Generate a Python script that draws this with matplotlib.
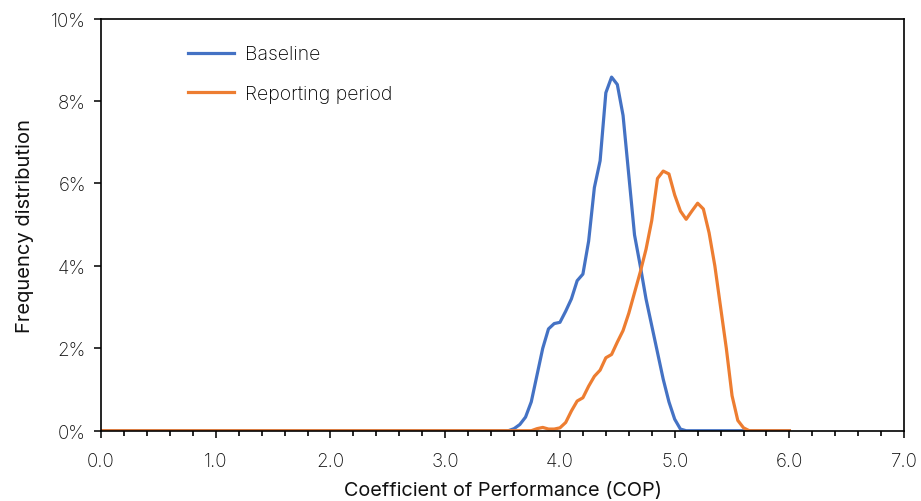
import numpy as np
import matplotlib
matplotlib.use("Agg")
import matplotlib.pyplot as plt
from matplotlib.ticker import FuncFormatter, MultipleLocator

plt.rcParams['font.family'] = ['Inter', 'DejaVu Sans']
plt.rcParams['font.weight'] = 'light'

# COP bins (step 0.05 from 0.0 to 6.0)
cop = np.round(np.arange(0, 121) * 0.05, 2)

# non-zero frequencies (%), everything else is 0
baseline_x = [3.60, 3.65, 3.70, 3.75, 3.80, 3.85, 3.90, 3.95, 4.00, 4.05,
              4.10, 4.15, 4.20, 4.25, 4.30, 4.35, 4.40, 4.45, 4.50, 4.55,
              4.60, 4.65, 4.70, 4.75, 4.80, 4.85, 4.90, 4.95, 5.00, 5.05]
baseline_y = [0.05, 0.15, 0.33, 0.70, 1.35, 2.00, 2.47, 2.60, 2.63, 2.90,
              3.20, 3.64, 3.80, 4.60, 5.90, 6.55, 8.20, 8.58, 8.40, 7.65,
              6.20, 4.75, 4.00, 3.20, 2.55, 1.90, 1.25, 0.70, 0.28, 0.04]

report_x = [3.80, 3.85, 3.90, 3.95, 4.00, 4.05, 4.10, 4.15, 4.20, 4.25,
            4.30, 4.35, 4.40, 4.45, 4.50, 4.55, 4.60, 4.65, 4.70, 4.75,
            4.80, 4.85, 4.90, 4.95, 5.00, 5.05, 5.10, 5.15, 5.20, 5.25,
            5.30, 5.35, 5.40, 5.45, 5.50, 5.55, 5.60]
report_y = [0.05, 0.08, 0.04, 0.04, 0.07, 0.20, 0.48, 0.72, 0.80, 1.08,
            1.32, 1.47, 1.77, 1.85, 2.15, 2.43, 2.85, 3.35, 3.85, 4.40,
            5.10, 6.12, 6.30, 6.23, 5.72, 5.33, 5.13, 5.33, 5.52, 5.38,
            4.80, 4.00, 3.00, 2.00, 0.85, 0.25, 0.07]

labels = ['Baseline', 'Reporting period']
colors = ['#4472C4', '#ED7D31']


def fill(xs, ys):
    d = dict(zip(xs, ys))
    return np.array([d.get(c, 0.0) for c in cop]) / 100.0


fig = plt.figure(figsize=(9.21, 5.02), dpi=100)
ax = fig.add_axes([0.1097, 0.14, 0.872, 0.821])

ax.plot(cop, fill(baseline_x, baseline_y), color=colors[0], lw=2.3, label=labels[0])
ax.plot(cop, fill(report_x, report_y), color=colors[1], lw=2.3, label=labels[1])

ax.set_xlim(0, 7)
ax.set_ylim(0, 0.10)
ax.xaxis.set_major_locator(MultipleLocator(1))
ax.xaxis.set_minor_locator(MultipleLocator(0.2))
ax.yaxis.set_major_locator(MultipleLocator(0.02))
ax.xaxis.set_major_formatter(FuncFormatter(lambda v, p: '%.1f' % v))
ax.yaxis.set_major_formatter(FuncFormatter(lambda v, p: '%d%%' % round(v * 100)))

ax.tick_params(axis='x', which='major', length=5, width=1.2, pad=10, labelsize=13.5, colors='#111111')
ax.tick_params(axis='x', which='minor', length=3.5, width=1.2)
ax.tick_params(axis='y', which='major', length=5, width=1.2, pad=6, labelsize=13.5, colors='#111111')
for s in ax.spines.values():
    s.set_linewidth(1.2)

ax.set_xlabel('Coefficient of Performance (COP)', fontsize=14.3, color='#111111', labelpad=8)
ax.set_ylabel('Frequency distribution', fontsize=14.5, color='#111111', labelpad=12)

ax.legend(loc='upper left', bbox_to_anchor=(0.108, 0.935), frameon=False,
          fontsize=14, handlelength=2.4, handletextpad=0.55, labelspacing=1.1,
          borderaxespad=0, borderpad=0)

fig.savefig('out.png', dpi=100)
